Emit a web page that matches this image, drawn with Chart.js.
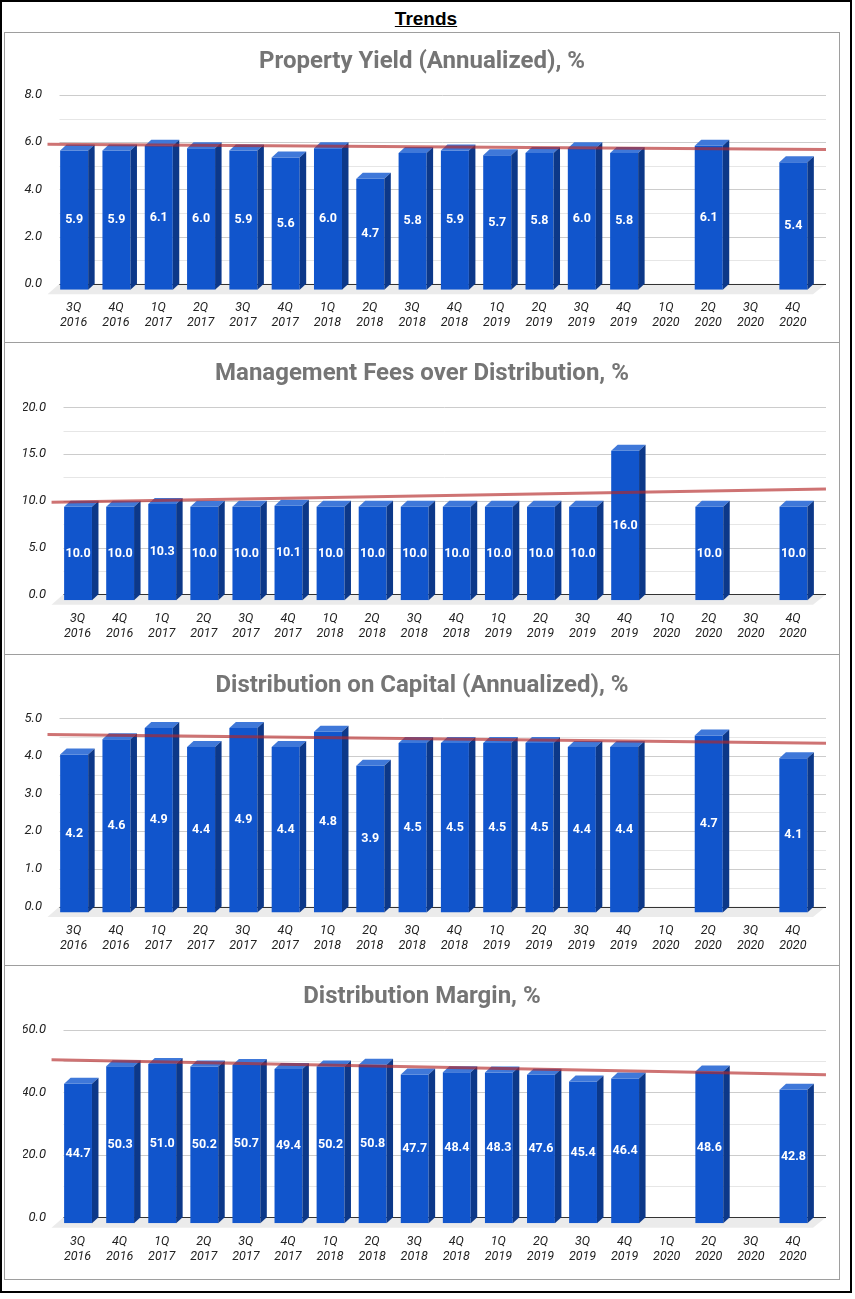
<!DOCTYPE html>
<html>
<head>
<meta charset="utf-8">
<script src="https://cdn.jsdelivr.net/npm/chart.js@4.4.1/dist/chart.umd.min.js"></script>
<style>
  html, body { margin: 0; padding: 0; background: #fff; }
  body { width: 855px; height: 1299px; position: relative; overflow: hidden; }
  #outer { position: absolute; left: 0; top: 0; width: 852px; height: 1293px; border: 2px solid #000; box-sizing: border-box; }
  #mainTitle { position: absolute; left: 0; top: 8px; width: 852px; text-align: center;
    font-family: "Liberation Sans", Arial, sans-serif; font-weight: bold; font-size: 19px; line-height: 22px;
    text-decoration: underline; color: #000; }
  .panel { position: absolute; left: 4px; width: 836px; }
  .pborder { position: absolute; left: 4px; width: 836px; border: 1px solid #9e9e9e; box-sizing: border-box; pointer-events: none; }
</style>
</head>
<body>
<div id="outer"></div>
<div id="mainTitle">Trends</div>
<div class="panel" id="p0"><canvas id="c0"></canvas></div>
<div class="panel" id="p1"><canvas id="c1"></canvas></div>
<div class="panel" id="p2"><canvas id="c2"></canvas></div>
<div class="panel" id="p3"><canvas id="c3"></canvas></div>
<script>
// ---------------- DATA ----------------
const quarters = [
  ['3Q','2016'],['4Q','2016'],['1Q','2017'],['2Q','2017'],['3Q','2017'],['4Q','2017'],
  ['1Q','2018'],['2Q','2018'],['3Q','2018'],['4Q','2018'],['1Q','2019'],['2Q','2019'],
  ['3Q','2019'],['4Q','2019'],['1Q','2020'],['2Q','2020'],['3Q','2020'],['4Q','2020']
];
const propertyYield    = [5.9, 5.9, 6.1, 6.0, 5.9, 5.6, 6.0, 4.7, 5.8, 5.9, 5.7, 5.8, 6.0, 5.8, null, 6.1, null, 5.4];
const mgmtFeesOverDist = [10.0, 10.0, 10.3, 10.0, 10.0, 10.1, 10.0, 10.0, 10.0, 10.0, 10.0, 10.0, 10.0, 16.0, null, 10.0, null, 10.0];
const distOnCapital    = [4.2, 4.6, 4.9, 4.4, 4.9, 4.4, 4.8, 3.9, 4.5, 4.5, 4.5, 4.5, 4.4, 4.4, null, 4.7, null, 4.1];
const distMargin       = [44.7, 50.3, 51.0, 50.2, 50.7, 49.4, 50.2, 50.8, 47.7, 48.4, 48.3, 47.6, 45.4, 46.4, null, 48.6, null, 42.8];

// trend line values read at left and right ends
const trendPropertyYield = [5.91, 5.69];
const trendMgmtFees      = [9.84, 11.25];
const trendDistCapital   = [4.57, 4.34];
const trendDistMargin    = [50.5, 45.7];

// y-axis labelled ticks and minor grid step
const yTicksPropertyYield = [0, 2, 4, 6, 8];
const yTicksMgmtFees      = [0, 5, 10, 15, 20];
const yTicksDistCapital   = [0, 1, 2, 3, 4, 5];
const yTicksDistMargin    = [0, 20, 40, 60];
const minorStepPropertyYield = 1;
const minorStepMgmtFees      = 2.5;
const minorStepDistCapital   = 0.5;
const minorStepDistMargin    = 10;

const titles = [
  'Property Yield (Annualized), %',
  'Management Fees over Distribution, %',
  'Distribution on Capital (Annualized), %',
  'Distribution Margin, %'
];

// ---------------- LAYOUT (absolute page px) ----------------
const layouts = [
  { top: 32,  h: 310, left: 59.5, areaTop: 95,    axis: 283.7, titleY: 30 },
  { top: 342, h: 312, left: 63.5, areaTop: 407.3, axis: 594.3, titleY: 32 },
  { top: 654, h: 311, left: 59.5, areaTop: 718.3, axis: 906.5, titleY: 32 },
  { top: 965, h: 314, left: 63.5, areaTop: 1030,  axis: 1217.3, titleY: 32 }
];
const AREA_RIGHT = 821;
const GRID_RIGHT = 826;
const CANVAS_LEFT = 4;
const CANVAS_W = 836;
const SIDE_PAD = CANVAS_LEFT + CANVAS_W - AREA_RIGHT;   // equal side padding keeps title centred
const DX = 6.5, DY = 6;           // 3D depth
const FLOOR_DX = 12, FLOOR_DY = 10.5;
const TREND_X0 = -12 / (AREA_RIGHT - 59.5), TREND_X1 = (GRID_RIGHT - 59.5) / (AREA_RIGHT - 59.5);
const TITLE_SIZE = 24;

const COLOR_FRONT = '#1155cc', COLOR_TOP = '#3f78d9', COLOR_SIDE = '#0c3889';

const panels = [
  { values: propertyYield,    trend: trendPropertyYield, ticks: yTicksPropertyYield, step: minorStepPropertyYield },
  { values: mgmtFeesOverDist, trend: trendMgmtFees,      ticks: yTicksMgmtFees,      step: minorStepMgmtFees },
  { values: distOnCapital,    trend: trendDistCapital,   ticks: yTicksDistCapital,   step: minorStepDistCapital },
  { values: distMargin,       trend: trendDistMargin,    ticks: yTicksDistMargin,    step: minorStepDistMargin }
];

const bar3d = {
  id: 'bar3d',
  beforeDatasetsDraw(chart) {
    const ctx = chart.ctx, a = chart.chartArea, ys = chart.scales.y;
    const majors = chart.options.plugins.bar3d.majors;
    const gridRight = GRID_RIGHT - CANVAS_LEFT;
    ctx.save();
    // gridlines (back wall)
    ys.ticks.forEach(t => {
      if (t.value === 0) return;
      const py = Math.round(ys.getPixelForValue(t.value)) + 0.5;
      const isMajor = majors.some(m => Math.abs(m - t.value) < 1e-9);
      ctx.strokeStyle = isMajor ? '#cccccc' : '#e6e6e6';
      ctx.lineWidth = 1;
      ctx.beginPath(); ctx.moveTo(a.left, py); ctx.lineTo(gridRight, py); ctx.stroke();
    });
    // floor
    const y0 = ys.getPixelForValue(0);
    ctx.fillStyle = '#ebebeb';
    ctx.beginPath();
    ctx.moveTo(a.left, y0);
    ctx.lineTo(gridRight, y0);
    ctx.lineTo(gridRight - FLOOR_DX - 1, y0 + FLOOR_DY);
    ctx.lineTo(a.left - FLOOR_DX, y0 + FLOOR_DY);
    ctx.closePath(); ctx.fill();
    // axis line
    ctx.strokeStyle = '#333333'; ctx.lineWidth = 1;
    const ay = Math.round(y0) + 0.5;
    ctx.beginPath(); ctx.moveTo(a.left, ay); ctx.lineTo(gridRight, ay); ctx.stroke();
    ctx.restore();
  },
  beforeDatasetDraw(chart, args) {
    if (args.meta.type !== 'bar') return;
    chart.ctx.save();
    chart.ctx.translate(-DX, DY);
  },
  afterDatasetDraw(chart, args) {
    if (args.meta.type !== 'bar') return;
    const ctx = chart.ctx;
    ctx.restore();
    ctx.save();
    const ds = chart.data.datasets[args.index];
    args.meta.data.forEach((el, i) => {
      const v = ds.data[i];
      if (v === null || v === undefined) return;
      const p = el.getProps(['x', 'y', 'base', 'width'], true);
      const l = p.x - p.width / 2, r = p.x + p.width / 2;
      // top face
      ctx.fillStyle = COLOR_TOP;
      ctx.beginPath();
      ctx.moveTo(l - DX, p.y + DY); ctx.lineTo(r - DX, p.y + DY);
      ctx.lineTo(r, p.y); ctx.lineTo(l, p.y); ctx.closePath(); ctx.fill();
      // side face
      ctx.fillStyle = COLOR_SIDE;
      ctx.beginPath();
      ctx.moveTo(r - DX, p.y + DY); ctx.lineTo(r, p.y);
      ctx.lineTo(r, p.base); ctx.lineTo(r - DX, p.base + DY); ctx.closePath(); ctx.fill();
      // value label
      ctx.fillStyle = '#ffffff';
      ctx.font = 'bold 12.5px Roboto, "Noto Sans", sans-serif';
      ctx.textAlign = 'center'; ctx.textBaseline = 'middle';
      ctx.fillText(v.toFixed(1), p.x - DX, (p.y + p.base) / 2 + DY);
    });
    ctx.restore();
  }
};

panels.forEach((pn, k) => {
  const L = layouts[k];
  const wrap = document.getElementById('p' + k);
  wrap.style.top = L.top + 'px';
  wrap.style.height = L.h + 'px';
  const border = document.createElement('div');
  border.className = 'pborder';
  border.style.top = L.top + 'px';
  border.style.height = (L.h + 1) + 'px';
  document.body.appendChild(border);

  const areaTopRel = L.areaTop - L.top;
  const axisRel = L.axis - L.top;
  const lh = TITLE_SIZE * 1.2;
  const tTop = L.titleY - lh / 2;
  const tBottom = areaTopRel - L.titleY - lh / 2;
  const majors = pn.ticks;
  const majorStep = majors[1] - majors[0];

  new Chart(document.getElementById('c' + k), {
    data: {
      labels: quarters,
      datasets: [
        {
          type: 'bar',
          data: pn.values,
          backgroundColor: COLOR_FRONT,
          borderWidth: 0,
          grouped: false,
          barPercentage: 0.662,
          categoryPercentage: 1.0,
          order: 1,
          xAxisID: 'x', yAxisID: 'y'
        },
        {
          type: 'line',
          data: [{ x: TREND_X0, y: pn.trend[0] }, { x: TREND_X1, y: pn.trend[1] }],
          borderColor: 'rgba(180, 40, 40, 0.65)',
          borderWidth: 3,
          pointRadius: 0,
          fill: false,
          clip: false,
          order: 0,
          xAxisID: 'xt', yAxisID: 'y'
        }
      ]
    },
    options: {
      responsive: true,
      maintainAspectRatio: false,
      animation: false,
      events: [],
      layout: { padding: { left: SIDE_PAD, right: SIDE_PAD, top: 0, bottom: 0 } },
      plugins: {
        legend: { display: false },
        tooltip: { enabled: false },
        title: {
          display: true,
          text: titles[k],
          color: '#757575',
          font: { family: 'Roboto', size: TITLE_SIZE, weight: 'bold', lineHeight: 1.2 },
          padding: { top: tTop, bottom: tBottom }
        },
        bar3d: { majors: majors }
      },
      scales: {
        x: {
          type: 'category',
          offset: true,
          grid: { display: false, drawTicks: false },
          border: { display: false },
          ticks: {
            autoSkip: false, maxRotation: 0, minRotation: 0, padding: 17,
            labelOffset: -7,
            color: '#222222',
            font: { family: 'Roboto', size: 12.5, style: 'italic', lineHeight: 1.2 }
          },
          afterFit(s) { s.height = L.h - axisRel; }
        },
        xt: { type: 'linear', display: false, min: 0, max: 1 },
        y: {
          min: 0,
          max: majors[majors.length - 1],
          grid: { display: false, drawTicks: false },
          border: { display: false },
          ticks: {
            stepSize: pn.step,
            autoSkip: false,
            padding: 17.5,
            color: '#222222',
            font: { family: 'Roboto', size: 13, style: 'italic' },
            callback(v) {
              const r = v / majorStep;
              return Math.abs(r - Math.round(r)) < 1e-6 ? Number(v).toFixed(1) : '';
            }
          },
          afterFit(s) { s.width = L.left - CANVAS_LEFT - SIDE_PAD; }
        }
      }
    },
    plugins: [bar3d]
  });
});
</script>
</body>
</html>
